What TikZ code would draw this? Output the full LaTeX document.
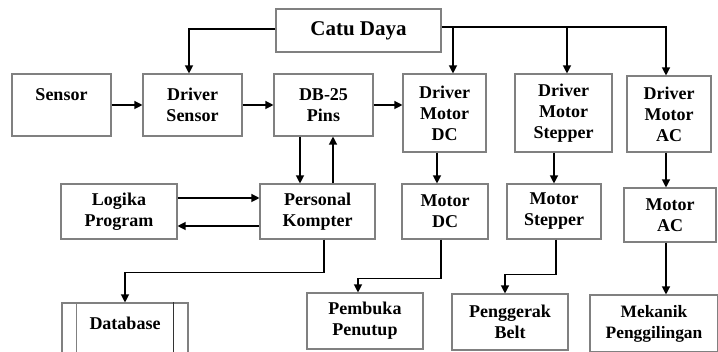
\documentclass[tikz,border=0pt]{standalone}
\usepackage{fontspec}
\setmainfont{Liberation Serif}
\usetikzlibrary{arrows.meta,positioning,calc}
\tikzset{
  >=Stealth,
  block/.style={rectangle, draw=black!50, line width=1.1pt, fill=white, align=center,
    inner sep=0pt, font=\fontsize{18}{21}\bfseries\selectfont},
  flow/.style={-{Triangle[length=8pt,width=8pt]}, line width=1.2pt, black},
  wire/.style={line width=1.2pt, black}
}

\begin{document}
\begin{tikzpicture}[x=1pt, y=-1pt]
\useasboundingbox (0,0) rectangle (718,352);
\clip (0,0) rectangle (718,352);

% --- Power supply ---
\node[block, minimum width=165pt, minimum height=43pt,
      font=\fontsize{21}{24}\bfseries\selectfont] (catuDaya) at (358.5,30.5) {Catu Daya};

% --- Top row: sensor side ---
\node[block, minimum width=99pt, minimum height=62pt] (sensorBlock) at (61.5,105) {Sensor\\\mbox{}};
\node[block, minimum width=99pt, minimum height=62pt] (driverSensor) at (192.5,105) {Driver\\Sensor};
\node[block, minimum width=99pt, minimum height=62pt] (dbPins) at (323.5,105) {DB-25\\Pins};

% --- Top row: motor drivers ---
\node[block, minimum width=83pt, minimum height=78pt] (driverDC) at (444.5,113) {Driver\\Motor\\DC};
\node[block, minimum width=97pt, minimum height=78pt] (driverStepper) at (563.5,113) {Driver\\Motor\\Stepper};
\node[block, minimum width=84pt, minimum height=76pt] (driverAC) at (669,114) {Driver\\Motor\\AC};

% --- Middle row ---
\node[block, minimum width=116pt, minimum height=55pt] (logikaBlock) at (119,211.5) {Logika\\Program};
\node[block, minimum width=115pt, minimum height=55pt] (pcBlock) at (317.5,211.5) {Personal\\Kompter};
\node[block, minimum width=86pt, minimum height=55pt] (motorDC) at (445,211.5) {Motor\\DC};
\node[block, minimum width=94pt, minimum height=55pt] (motorStepper) at (554,211.5) {Motor\\Stepper};
\node[block, minimum width=92pt, minimum height=54pt] (motorAC) at (670,215) {Motor\\AC};

% --- Bottom row ---
\node[block, minimum width=126pt, minimum height=61pt] (dbStore) at (125,333.5) {Database\\\mbox{}};
\draw[black!50, line width=1.1pt] ($(dbStore.north west)+(15,0)$) -- ($(dbStore.south west)+(15,0)$);
\draw[black!80, line width=1.1pt] ($(dbStore.north east)+(-15,0)$) -- ($(dbStore.south east)+(-15,0)$);
\node[block, minimum width=116pt, minimum height=56pt] (pembuka) at (365,321) {Pembuka\\Penutup};
\node[block, minimum width=116pt, minimum height=56pt] (penggerak) at (510,322) {Penggerak\\Belt};
\node[block, minimum width=128pt, minimum height=57pt,
      font=\fontsize{17.4}{21}\bfseries\selectfont] (mekanik) at (654,323.5) {Mekanik\\Penggilingan};

% tap points for the straight connectors
\coordinate (busLeft) at ($(catuDaya.west)+(0,-1.5)$);
\coordinate (busRight) at ($(catuDaya.east)+(0,-3.5)$);
\coordinate (tapSensor) at ($(driverSensor.north)+(-3.5,0)$);
\coordinate (tapDC) at ($(driverDC.north)+(8.5,0)$);
\coordinate (tapStepper) at ($(driverStepper.north)+(3.5,0)$);
\coordinate (tapAC) at ($(driverAC.north)+(-3,0)$);
\coordinate (pinsDown) at ($(dbPins.south)+(-23.5,0)$);
\coordinate (pinsUp) at ($(pcBlock.north)+(15.5,0)$);
\coordinate (toPC) at ($(logikaBlock.east)+(0,-13.5)$);
\coordinate (toLogika) at ($(pcBlock.west)+(0,14.5)$);
\coordinate (inDC) at ($(motorDC.north)+(-8,0)$);
\coordinate (inAC) at ($(motorAC.north)+(-4,0)$);
\coordinate (outAC) at ($(motorAC.south)+(-4,0)$);

% Power lines
\draw[flow] (busLeft) -| (tapSensor);
\draw[flow] (busRight) -| (tapAC);
\draw[flow] (busRight -| tapDC) -- (tapDC);
\draw[flow] (busRight -| tapStepper) -- (tapStepper);

% Signal path
\draw[flow] (sensorBlock) -- (driverSensor);
\draw[flow] (driverSensor) -- (dbPins);
\draw[flow] (dbPins.east) -- (dbPins.east -| driverDC.west);
\draw[flow] (pinsDown) -- (pinsDown |- pcBlock.north);
\draw[flow] (pinsUp) -- (pinsUp |- dbPins.south);
\draw[flow] (toPC) -- (toPC -| pcBlock.west);
\draw[flow] (toLogika) -- (toLogika -| logikaBlock.east);
\draw[flow] ($(pcBlock.south)+(6.5,0)$) -- ++(0,33) -| (dbStore.north);

% Drivers to motors
\draw[flow] (inDC |- driverDC.south) -- (inDC);
\draw[flow] (motorStepper.north |- driverStepper.south) -- (motorStepper.north);
\draw[flow] (inAC |- driverAC.south) -- (inAC);

% Motors to mechanics
\draw[flow] ($(motorDC.south)+(-4,0)$) -- ++(0,39) -| ($(pembuka.north)+(-7,0)$);
\draw[flow] ($(motorStepper.south)+(2,0)$) -- ++(0,35) -| ($(penggerak.north)+(-5,0)$);
\draw[flow] (outAC) -- (outAC |- mekanik.north);

\end{tikzpicture}
\end{document}
